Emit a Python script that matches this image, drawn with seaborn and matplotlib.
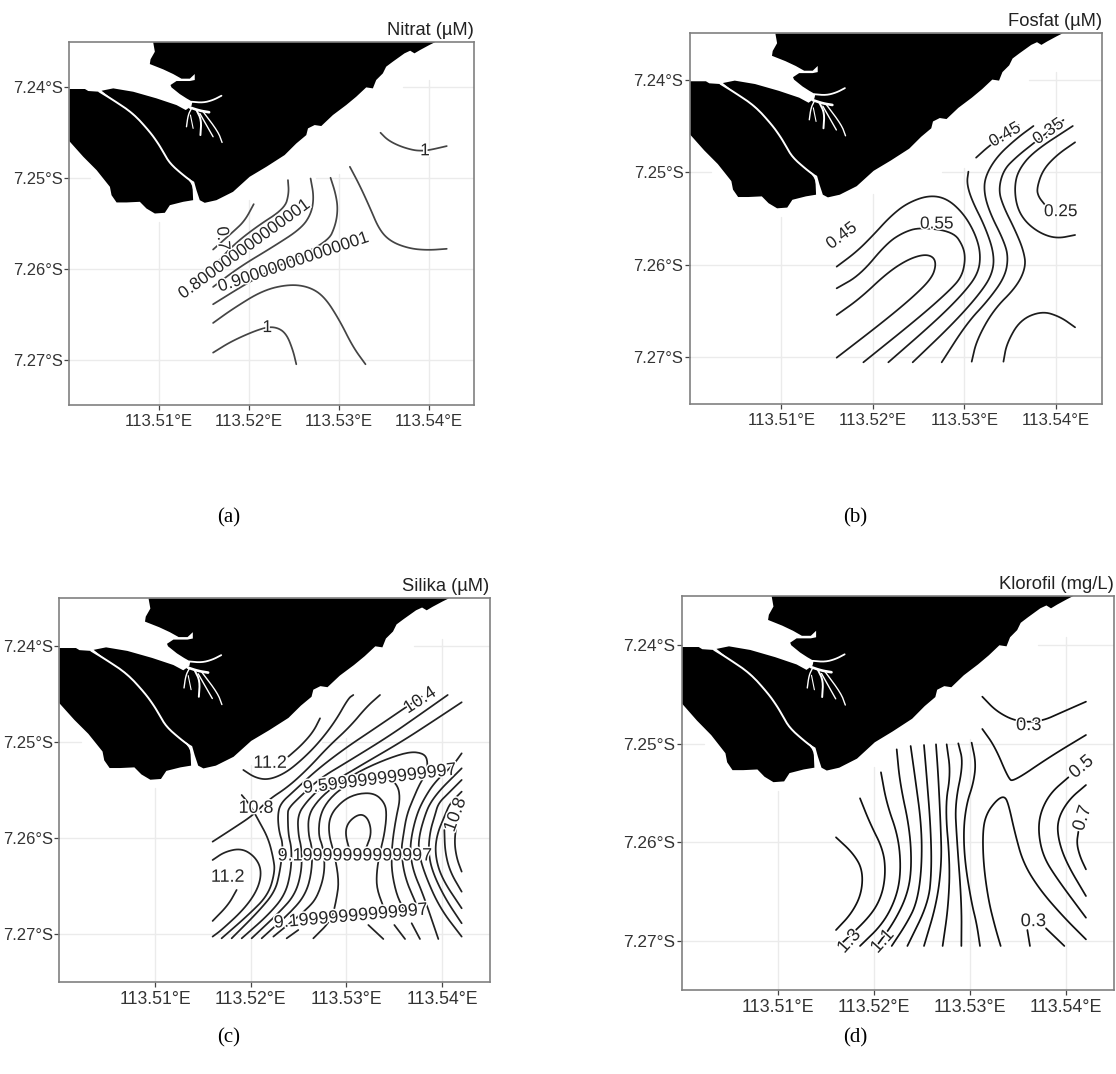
import numpy as np
import pandas as pd
import matplotlib
matplotlib.use('Agg')
import matplotlib.pyplot as plt
import matplotlib.patheffects as pe
import seaborn as sns

sns.set_theme(style='white')
plt.rcParams['font.family'] = ['Liberation Sans', 'DejaVu Sans']

# all coordinates below: thousandths of a degree east of 113.500E, south of 7.235S
coast_main = [(9.33, 0), (40.74, 0), (40.07, 0.33), (39.04, 0.88), (38.41, 1.25), (37.93, 0.96), (37.3, 1.25),
              (36.0, 2.17), (35.26, 2.72), (34.89, 3.46), (34.15, 4.19), (33.78, 5.11), (33.04, 5.0), (31.93, 6.03),
              (30.81, 6.95), (29.33, 8.05), (28.04, 9.26), (27.3, 9.15), (26.56, 9.52), (26.37, 10.26), (25.26, 11.18),
              (23.96, 12.46), (21.93, 13.75), (20.07, 14.85), (18.22, 16.51), (16.37, 17.43), (15.07, 17.72),
              (14.52, 17.43), (14.15, 16.32), (13.89, 15.4), (12.67, 14.67), (11.19, 13.38), (10.44, 12.1),
              (9.89, 11.18), (8.96, 9.89), (7.11, 7.87), (4.89, 6.4), (3.59, 5.37), (4.89, 5.11), (7.11, 5.48),
              (9.7, 6.21), (11.93, 6.95), (12.96, 7.5), (13.59, 7.06), (13.7, 6.58), (13.04, 6.21), (12.3, 5.74),
              (11.37, 5.0), (11.26, 4.74), (11.93, 4.3), (13.41, 4.3), (13.96, 4.19), (13.96, 3.53), (13.41, 4.04),
              (12.48, 4.04), (11.56, 3.53), (10.44, 3.01), (8.96, 2.43), (9.04, 1.91), (9.52, 1.07)]
coast_island = [(0, 5.18), (1.74, 5.18), (2.11, 5.4), (3.33, 5.48), (4.89, 6.4), (7.11, 7.87), (8.96, 9.89),
                (9.89, 11.18), (10.44, 12.1), (11.19, 13.38), (12.67, 14.67), (13.7, 15.59), (13.78, 17.43),
                (12.67, 17.61), (11.19, 17.98), (10.63, 18.82), (9.52, 18.9), (8.59, 18.35), (7.85, 17.61),
                (6.37, 17.68), (5.26, 17.68), (4.7, 16.88), (4.52, 15.96), (3.04, 14.12), (1.56, 12.65), (0, 10.92)]
river = [(3.33, 5.45), (4.89, 6.4), (7.11, 7.87), (8.96, 9.89), (9.89, 11.18), (10.44, 12.1), (11.19, 13.38),
         (12.67, 14.67), (13.8, 15.5), (14.0, 17.5)]
creeks = [[(13.59, 6.58), (14.89, 6.69), (16.0, 6.4), (16.93, 5.92)],
          [(13.41, 7.21), (14.52, 7.57), (15.56, 7.74)],
          [(13.59, 7.32), (13.22, 8.05), (13.04, 9.34)],
          [(13.48, 8.05), (13.78, 9.52)],
          [(14.15, 7.5), (14.7, 8.6), (14.59, 10.26)],
          [(14.52, 7.87), (16.0, 10.44)],
          [(14.89, 7.68), (16.56, 9.89), (17.0, 11.07)]]

nitrat_lines = [
    [(34.63, 10.0), (35.44, 10.81), (36.74, 11.47), (38.22, 11.91), (39.15, 11.99), (40.07, 11.91), (42.0, 11.47)],
    [(31.22, 13.75), (32.3, 15.77), (33.41, 18.16), (34.52, 20.74), (35.81, 22.02), (37.85, 22.76), (39.89, 22.94), (42.0, 22.79)],
    [(29.07, 14.96), (29.63, 16.69), (29.89, 18.35), (29.63, 20.18), (28.78, 22.02), (23.78, 24.41), (19.7, 26.62), (16.0, 28.9)],
    [(26.85, 15.04), (27.22, 17.06), (26.93, 18.9), (25.81, 20.55), (22.67, 22.57), (18.96, 24.78), (16.0, 26.99)],
    [(24.33, 15.22), (24.44, 16.69), (23.96, 18.35), (20.81, 20.37), (18.22, 22.39), (16.0, 24.78)],
    [(20.52, 17.87), (19.52, 19.71), (18.22, 20.92), (16.0, 22.87)],
    [(16.0, 30.96), (18.22, 29.38), (21.56, 27.35), (24.52, 26.69), (26.74, 26.99), (28.41, 28.09), (30.07, 30.66), (31.56, 33.6), (32.96, 35.51)],
    [(16.0, 34.23), (18.22, 32.87), (21.56, 31.47), (23.04, 31.4), (24.15, 32.13), (24.89, 33.97), (25.26, 35.51)],
]
nitrat_labels = [('1', 39.59, 11.99, 0), ('0.800000000000001', 19.44, 22.87, 36),
                 ('0.900000000000001', 24.89, 24.3, 18.6), ('0.7', 17.04, 21.65, -85), ('1', 22.04, 31.47, 0)]

fosfat_lines = [
    [(16.03, 30.42), (18.59, 28.62), (21.5, 25.92), (23.69, 24.48), (25.51, 23.87), (26.6, 24.12), (26.9, 25.02), (26.42, 26.46), (24.42, 28.44), (21.14, 31.14), (16.03, 35.03)],
    [(16.03, 27.54), (18.59, 26.1), (21.5, 22.68), (23.32, 21.49), (25.15, 20.95), (28.79, 21.42), (29.88, 23.04), (30.1, 24.48), (29.7, 26.28), (28.43, 27.72), (25.15, 30.6), (18.95, 35.53)],
    [(16.03, 25.2), (18.22, 23.58), (20.04, 21.78), (21.87, 19.8), (23.69, 18.36), (26.06, 17.49), (28.06, 17.82), (29.88, 19.44), (31.16, 21.6), (31.78, 23.76), (31.52, 25.92), (29.88, 28.08), (26.97, 30.96), (21.68, 35.53)],
    [(30.43, 14.94), (30.25, 16.2), (30.79, 18.0), (32.25, 20.88), (33.24, 23.76), (33.09, 25.92), (31.71, 28.08), (28.79, 31.32), (24.34, 35.53)],
    [(31.27, 13.43), (32.8, 12.06), (35.9, 9.9)],
    [(37.54, 10.01), (35.71, 11.34), (33.53, 13.32), (32.25, 15.48), (32.14, 17.28), (32.8, 19.44), (34.26, 22.32), (34.8, 24.12), (34.44, 26.28), (32.62, 28.8), (30.25, 31.32), (27.51, 35.53)],
    [(40.82, 9.36), (37.54, 11.88), (35.71, 13.32), (34.26, 14.76), (33.71, 16.92), (34.26, 18.72), (35.53, 21.24), (36.44, 23.4), (36.73, 25.2), (35.71, 27.36), (33.16, 29.88), (31.34, 33.12), (30.79, 35.46)],
    [(41.84, 10.01), (37.54, 12.78), (35.9, 14.76), (35.46, 16.56), (35.71, 18.72), (36.63, 20.34), (38.27, 21.6), (40.09, 22.17), (42.09, 21.78)],
    [(42.09, 11.77), (40.09, 13.14), (38.56, 14.76), (37.9, 16.74), (38.08, 17.64), (38.81, 18.54)],
    [(34.26, 35.46), (34.62, 33.48), (36.08, 30.96), (38.45, 29.99), (40.45, 30.6), (42.09, 31.75)],
]
fosfat_labels = [('0.45', 34.44, 10.98, 30), ('0.35', 39.18, 10.62, 35), ('0.55', 26.97, 20.59, 0),
                 ('0.45', 16.58, 21.89, 37), ('0.25', 40.52, 19.26, 0)]

silika_lines = [
    [(23.95, 16.49), (25.34, 15.28), (26.56, 13.89), (27.26, 12.5)],
    [(19.24, 17.88), (20.46, 18.68), (21.85, 18.92), (23.6, 18.23), (25.34, 16.84), (27.08, 15.1), (28.83, 12.85), (30.22, 10.42), (30.74, 10.07)],
    [(16.03, 25.35), (18.19, 23.96), (20.29, 22.57), (21.85, 21.0), (23.95, 19.62), (26.04, 17.71), (28.13, 15.45), (30.39, 13.37), (32.14, 11.29), (33.53, 10.07)],
    [(19.07, 20.49), (19.94, 21.53), (20.81, 23.09), (21.85, 25.0), (22.38, 27.08), (22.55, 28.47), (21.85, 30.9), (19.76, 32.99), (16.97, 35.42)],
    [(16.03, 27.26), (17.32, 26.39), (19.07, 26.04), (20.46, 26.91), (21.16, 28.3), (20.81, 30.21), (19.41, 32.29), (16.97, 34.55), (16.03, 35.24)],
    [(18.54, 30.38), (17.67, 31.94), (16.03, 33.61)],
    [(37.89, 10.24), (36.07, 11.46), (33.01, 13.54), (29.87, 15.63), (26.91, 17.88), (24.47, 20.14), (23.14, 21.35), (22.83, 22.57), (22.97, 24.3), (23.42, 25.69), (23.07, 28.47), (22.55, 30.56), (20.81, 32.64), (18.02, 35.42)],
    [(40.61, 10.07), (37.89, 11.98), (34.4, 14.41), (29.87, 17.19), (27.26, 18.75), (25.17, 20.66), (23.95, 21.88), (23.88, 22.57), (23.95, 24.65), (24.3, 26.04), (24.22, 28.47), (23.6, 30.9), (21.85, 32.99), (19.07, 35.42)],
    [(42.07, 10.83), (39.28, 12.67), (35.8, 14.93), (31.61, 17.36), (29.87, 18.4), (27.26, 19.79), (25.86, 21.18), (24.92, 22.57), (24.99, 24.65), (25.34, 26.04), (25.34, 28.47), (24.64, 30.9), (22.9, 32.81), (20.11, 35.42)],
    [(21.16, 35.42), (24.64, 32.29), (25.86, 30.56), (26.39, 28.47), (26.46, 26.04), (26.04, 24.65), (26.04, 22.57), (27.08, 21.0), (28.65, 19.62), (31.61, 17.88), (34.4, 16.67), (36.67, 15.97), (38.06, 16.15), (38.52, 16.84), (38.41, 18.23), (37.71, 19.27), (37.02, 20.83), (36.32, 22.57), (35.97, 24.65), (35.73, 26.39), (36.15, 29.17), (37.36, 31.94)],
    [(22.38, 35.24), (26.04, 32.29), (27.08, 30.9), (27.78, 28.47), (27.61, 26.04), (27.08, 24.65), (27.26, 22.57), (28.13, 21.0), (29.7, 19.62), (32.14, 18.75), (34.58, 18.75), (35.45, 19.62), (35.62, 21.0), (35.27, 22.57), (34.92, 24.65), (34.75, 26.39), (34.75, 28.47), (35.27, 30.9), (35.97, 32.29)],
    [(26.56, 35.42), (28.48, 33.51), (29.0, 31.25), (29.24, 29.51), (28.83, 26.91), (28.13, 24.48), (28.3, 22.57), (29.7, 21.0), (31.27, 20.31), (33.01, 20.31), (34.05, 21.35), (34.23, 22.57), (33.98, 24.65), (33.53, 26.39), (33.18, 28.47), (33.18, 30.21), (33.88, 32.12)],
    [(23.77, 35.42), (24.99, 34.55)],
    [(30.39, 26.39), (29.87, 24.48), (30.22, 23.26), (31.44, 22.4), (32.31, 22.92), (32.66, 24.48), (32.07, 26.04)],
    [(32.31, 34.03), (33.88, 35.49)],
    [(35.03, 34.03), (36.15, 35.49)],
    [(36.84, 33.85), (37.71, 35.49)],
    [(42.07, 16.15), (41.2, 17.36), (39.28, 19.1), (38.06, 21.0), (37.36, 22.57), (36.84, 24.65), (36.67, 26.39), (37.02, 28.47), (38.06, 30.9), (39.63, 35.49)],
    [(42.07, 17.71), (41.2, 18.58), (39.8, 19.97), (38.76, 21.35), (38.24, 22.57), (37.64, 24.65), (37.54, 26.39), (38.24, 28.82), (39.8, 32.29), (42.07, 35.24)],
    [(42.07, 18.92), (40.68, 20.31), (39.63, 21.35), (39.28, 22.57), (38.76, 24.3), (38.58, 26.39), (39.0, 28.47), (40.33, 31.25), (42.07, 33.85)],
    [(42.07, 20.14), (40.85, 21.35), (40.33, 22.57), (39.46, 24.65), (39.28, 26.74), (39.98, 29.17), (42.07, 32.29)],
    [(40.26, 24.13), (40.33, 26.39), (40.85, 28.47), (42.07, 30.56)],
    [(41.55, 23.44), (41.3, 25.35), (41.55, 27.08), (42.07, 28.47)],
]
silika_labels = [('11.2', 22.03, 17.19, 0), ('10.4', 37.71, 10.66, 33), ('9.59999999999997', 33.53, 18.85, 7),
                 ('10.8', 20.56, 21.88, 0), ('10.8', 41.44, 22.57, 70), ('9.19999999999997', 30.92, 26.84, 0),
                 ('11.2', 17.6, 29.06, 0), ('9.19999999999997', 30.5, 33.16, 5)]

klorofil_lines = [
    [(31.26, 10.22), (32.76, 11.74), (34.84, 12.76), (37.34, 12.76), (39.69, 11.74), (42.05, 10.73)],
    [(31.26, 13.5), (32.58, 15.3), (33.97, 18.51), (34.49, 18.85), (38.31, 16.31), (42.05, 14.11)],
    [(40.22, 18.41), (38.31, 20.03), (37.27, 22.06), (37.09, 24.09), (37.61, 26.46), (39.0, 28.66), (42.05, 32.66)],
    [(42.05, 19.19), (40.22, 20.71), (39.07, 22.74), (39.17, 24.77), (40.04, 27.14), (42.05, 30.46)],
    [(41.26, 23.93), (41.08, 25.11), (41.43, 26.46), (42.05, 27.75)],
    [(42.05, 34.86), (39.69, 32.56), (37.27, 29.85), (35.53, 27.14), (34.66, 24.09), (33.97, 21.05), (33.55, 20.3), (32.75, 20.71), (31.71, 22.06), (31.3, 23.76), (31.37, 27.14), (31.89, 30.86), (32.58, 33.57), (33.17, 35.53)],
    [(35.95, 33.91), (36.22, 35.53)],
    [(37.89, 33.74), (39.8, 35.53)],
    [(16.03, 24.5), (17.83, 26.13), (18.81, 27.82), (18.7, 30.19), (17.66, 32.22), (16.03, 33.91)],
    [(18.53, 20.54), (19.57, 23.08), (20.96, 25.79), (21.2, 28.16), (20.78, 30.52), (19.57, 32.55), (16.62, 35.26)],
    [(20.71, 17.9), (21.3, 21.05), (22.52, 24.43), (22.8, 27.82), (22.35, 30.52), (20.96, 33.23), (18.53, 35.53)],
    [(22.35, 15.57), (22.69, 19.02), (23.73, 23.76), (23.91, 27.82), (23.39, 30.52), (22.0, 33.23), (20.26, 35.53)],
    [(23.8, 15.23), (24.25, 18.34), (24.95, 23.42), (24.95, 27.82), (24.43, 31.2), (23.39, 33.23), (21.83, 35.53)],
    [(25.19, 15.13), (25.47, 18.34), (25.88, 23.42), (25.99, 27.82), (25.64, 31.2), (23.46, 35.53)],
    [(26.44, 15.06), (26.68, 18.34), (26.93, 23.42), (27.03, 27.14), (26.51, 31.2), (25.19, 35.53)],
    [(27.55, 15.06), (27.97, 18.0), (27.38, 21.39), (27.9, 27.14), (27.72, 31.54), (27.13, 35.53)],
    [(28.76, 14.96), (29.29, 16.99), (28.42, 21.05), (28.59, 24.43), (29.11, 31.2), (29.08, 35.53)],
    [(30.15, 14.89), (30.6, 16.99), (30.33, 19.02), (29.63, 21.05), (29.29, 23.76), (29.46, 27.14), (30.15, 31.2), (30.67, 33.23), (31.02, 35.53)],
]
klorofil_labels = [('0.3', 36.09, 13.16, 0), ('0.5', 41.6, 17.39, 40), ('0.7', 41.71, 22.57, 72),
                   ('0.3', 36.57, 33.06, 0), ('1.3', 17.42, 35.09, 48), ('1.1', 20.89, 35.09, 48)]

lon_ticks = [113.51, 113.52, 113.53, 113.54]
lat_ticks = [-7.24, -7.25, -7.26, -7.27]
lon_tick_labels = ['113.51°E', '113.52°E', '113.53°E', '113.54°E']
lat_tick_labels = ['7.24°S', '7.25°S', '7.26°S', '7.27°S']

W, H = 1116, 1074
# panel boxes in pixels: left, top, right, bottom; then label, x tick and y tick font sizes
panels = [('Nitrat (µM)', nitrat_lines, nitrat_labels, (69.3, 42, 473.7, 405), '#444444', 12.4, 12.1, 11.9),
          ('Fosfat (µM)', fosfat_lines, fosfat_labels, (690, 33.3, 1101.7, 403.7), '#1c1c1c', 12.4, 12.1, 11.9),
          ('Silika (µM)', silika_lines, silika_labels, (59.3, 598.3, 489.7, 982.3), '#222222', 12.9, 12.7, 12.0),
          ('Klorofil (mg/L)', klorofil_lines, klorofil_labels, (682, 596, 1114.3, 990), '#111111', 13.2, 12.9, 12.4)]
captions = [('(a)', 229, 518), ('(b)', 855, 518), ('(c)', 229, 1038), ('(d)', 855, 1038)]


def to_lonlat(points):
    pts = np.array(points, dtype=float)
    return 113.5 + pts[:, 0] / 1000, -7.235 - pts[:, 1] / 1000


def smooth(points, n=3):
    # corner cutting so the read-off vertices draw as a soft curve
    pts = np.array(points, dtype=float)
    if len(pts) < 3:
        return pts
    for _ in range(n):
        q = 0.75 * pts[:-1] + 0.25 * pts[1:]
        r = 0.25 * pts[:-1] + 0.75 * pts[1:]
        mid = np.empty((2 * len(q), 2))
        mid[0::2] = q
        mid[1::2] = r
        pts = np.vstack([pts[0], mid, pts[-1]])
    return pts


fig = plt.figure(figsize=(W / 100, H / 100), dpi=100, facecolor='white')

for title, lines, labels, box, line_color, label_size, xtick_size, ytick_size in panels:
    left, top, right, bottom = box
    ax = fig.add_axes([left / W, 1 - bottom / H, (right - left) / W, (bottom - top) / H])

    # grid stops short where the coastline mask sits
    grid_c = '#ebebeb'
    for lon, start in zip(lon_ticks, [19.8, 17.4, 14.5, 4.2]):
        ax.plot([lon, lon], [-7.235 - start / 1000, -7.275], color=grid_c, lw=1, zorder=0)
    ax.plot([113.5, 113.545], [-7.26, -7.26], color=grid_c, lw=1, zorder=0)
    ax.plot([113.5, 113.545], [-7.27, -7.27], color=grid_c, lw=1, zorder=0)
    ax.plot([113.5, 113.5023], [-7.25, -7.25], color=grid_c, lw=1, zorder=0)
    ax.plot([113.5275, 113.545], [-7.25, -7.25], color=grid_c, lw=1, zorder=0)
    ax.plot([113.5371, 113.545], [-7.24, -7.24], color=grid_c, lw=1, zorder=0)

    for coast in [coast_main, coast_island]:
        cx, cy = to_lonlat(coast)
        ax.fill(cx, cy, color='black', lw=0, zorder=1)
    rx, ry = to_lonlat(smooth(river, 2))
    ax.plot(rx, ry, color='white', lw=1.4, zorder=1.5, solid_capstyle='round')
    for creek, w in zip(creeks, [1.3, 1.9, 1.0, 0.8, 1.4, 1.0, 1.0]):
        cx, cy = to_lonlat(smooth(creek, 2))
        ax.plot(cx, cy, color='white', lw=w, zorder=1.5)

    frames = []
    for i, line in enumerate(lines):
        lon, lat = to_lonlat(smooth(line))
        frames.append(pd.DataFrame({'lon': lon, 'lat': lat, 'line': i}))
    df = pd.concat(frames, ignore_index=True)
    sns.lineplot(data=df, x='lon', y='lat', units='line', estimator=None, sort=False,
                 color=line_color, lw=1.25, legend=False, ax=ax, zorder=3)

    for text, x, y, rot in labels:
        ax.text(113.5 + x / 1000, -7.235 - y / 1000, text, fontsize=label_size, color='#262626',
                rotation=rot, rotation_mode='anchor', ha='center', va='center', zorder=5,
                path_effects=[pe.withStroke(linewidth=2.2, foreground='white')])

    ax.set_xlim(113.5, 113.545)
    ax.set_ylim(-7.275, -7.235)
    ax.set_xticks(lon_ticks)
    ax.set_xticklabels(lon_tick_labels)
    ax.set_yticks(lat_ticks)
    ax.set_yticklabels(lat_tick_labels)
    ax.set_xlabel('')
    ax.set_ylabel('')
    ax.tick_params(axis='x', length=3.5, width=0.9, color='#444444', labelcolor='#333333',
                   labelsize=xtick_size, pad=3, bottom=True)
    ax.tick_params(axis='y', length=3.5, width=0.9, color='#444444', labelcolor='#333333',
                   labelsize=ytick_size, pad=1.2, left=True)
    ax.set_title(title, loc='right', fontsize=13.2, color='#222222', pad=5)
    for spine in ax.spines.values():
        spine.set_color('#808080')
        spine.set_linewidth(1.2)

for text, x, y in captions:
    fig.text(x / W, 1 - y / H, text, family=['Liberation Serif'], fontsize=15, color='black',
             ha='center', va='center')

fig.savefig('out.png', dpi=100)
